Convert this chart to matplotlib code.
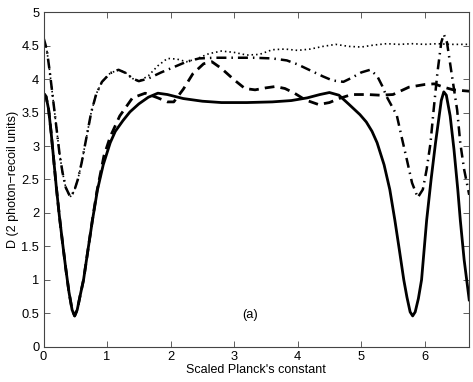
import matplotlib
matplotlib.use("Agg")
import matplotlib.pyplot as plt

plt.rcParams['font.family'] = ['Liberation Sans', 'DejaVu Sans']

# solid curve
x_solid = [0, 0.04, 0.08, 0.12, 0.16, 0.2, 0.25, 0.3, 0.35, 0.4, 0.45, 0.49, 0.53,
           0.58, 0.63, 0.7, 0.77, 0.85, 0.94, 1.05, 1.13, 1.25, 1.36, 1.5, 1.65, 1.8,
           1.95, 2.2, 2.5, 2.8, 3.2, 3.6, 3.9, 4.15, 4.35, 4.5, 4.65, 4.8, 4.98, 5.08,
           5.17, 5.25, 5.36, 5.45, 5.53, 5.6, 5.67, 5.72, 5.77, 5.81, 5.85, 5.9, 5.95, 6.03,
           6.1, 6.17, 6.22, 6.26, 6.3, 6.34, 6.4, 6.46, 6.52, 6.56, 6.62, 6.7]
y_solid = [3.79, 3.74, 3.55, 3.2, 2.8, 2.4, 1.95, 1.55, 1.17, 0.82, 0.55, 0.46, 0.55,
           0.78, 1.0, 1.45, 1.89, 2.35, 2.72, 3.05, 3.22, 3.38, 3.51, 3.63, 3.73, 3.79,
           3.77, 3.71, 3.67, 3.65, 3.65, 3.66, 3.68, 3.72, 3.77, 3.8, 3.76, 3.63, 3.47, 3.36,
           3.22, 3.05, 2.72, 2.35, 1.89, 1.45, 1.0, 0.74, 0.52, 0.46, 0.52, 0.72, 1.0, 1.89,
           2.5, 3.05, 3.4, 3.68, 3.81, 3.76, 3.45, 2.95, 2.35, 1.89, 1.3, 0.7]

# dashed curve
x_dash = [0, 0.04, 0.08, 0.12, 0.16, 0.2, 0.25, 0.3, 0.35, 0.4, 0.45, 0.49, 0.53,
          0.58, 0.63, 0.7, 0.77, 0.84, 0.95, 1.05, 1.2, 1.4, 1.6, 1.8, 1.95, 2.05,
          2.2, 2.35, 2.52, 2.65, 2.8, 3.0, 3.17, 3.33, 3.5, 3.65, 3.8, 3.95, 4.12, 4.33,
          4.5, 4.65, 4.85, 5.1, 5.3, 5.5, 5.75, 6.0, 6.15, 6.3, 6.45, 6.7]
y_dash = [3.79, 3.74, 3.55, 3.2, 2.8, 2.4, 1.95, 1.55, 1.17, 0.82, 0.55, 0.46, 0.55,
          0.78, 1.0, 1.45, 1.9, 2.32, 2.85, 3.14, 3.45, 3.72, 3.79, 3.72, 3.66, 3.66,
          3.85, 4.08, 4.23, 4.26, 4.16, 3.99, 3.86, 3.84, 3.87, 3.89, 3.86, 3.79, 3.69, 3.62,
          3.65, 3.71, 3.77, 3.77, 3.76, 3.77, 3.88, 3.92, 3.93, 3.88, 3.84, 3.82]

# dash-dot curve
x_dd = [0, 0.05, 0.1, 0.15, 0.2, 0.25, 0.3, 0.35, 0.42, 0.48, 0.54, 0.6, 0.67, 0.75,
        0.83, 0.92, 1.05, 1.18, 1.3, 1.4, 1.5, 1.65, 1.85, 2.05, 2.25, 2.45, 2.7, 3.0,
        3.3, 3.6, 3.83, 4.0, 4.2, 4.4, 4.55, 4.72, 4.85, 5.0, 5.14, 5.25, 5.33, 5.4,
        5.48, 5.56, 5.64, 5.72, 5.8, 5.89, 5.97, 6.03, 6.09, 6.14, 6.2, 6.26, 6.3,
        6.35, 6.43, 6.51, 6.56, 6.62, 6.7]
y_dd = [4.62, 4.45, 4.1, 3.7, 3.3, 2.9, 2.6, 2.38, 2.24, 2.32, 2.5, 2.75, 3.1, 3.5,
        3.78, 3.96, 4.09, 4.14, 4.09, 4.01, 3.97, 4.01, 4.1, 4.18, 4.26, 4.31, 4.32, 4.32,
        4.32, 4.31, 4.28, 4.22, 4.13, 4.04, 3.98, 3.96, 4.02, 4.1, 4.14, 4.05, 3.9, 3.74,
        3.6, 3.46, 3.12, 2.79, 2.45, 2.23, 2.35, 2.65, 3.04, 3.54, 4.1, 4.55, 4.67,
        4.55, 4.04, 3.54, 3.04, 2.65, 2.27]

# dotted curve
x_dot = [0, 0.05, 0.1, 0.15, 0.2, 0.25, 0.3, 0.35, 0.42, 0.48, 0.54, 0.6, 0.67, 0.75,
         0.83, 0.92, 1.05, 1.18, 1.3, 1.4, 1.5, 1.65, 1.8, 1.95, 2.1, 2.25, 2.4, 2.6,
         2.8, 3.0, 3.2, 3.4, 3.6, 3.8, 4.0, 4.2, 4.4, 4.6, 4.8, 5.0, 5.2, 5.4, 5.6,
         5.8, 6.0, 6.2, 6.4, 6.7]
y_dot = [4.62, 4.45, 4.1, 3.7, 3.3, 2.9, 2.6, 2.38, 2.24, 2.32, 2.5, 2.75, 3.1, 3.5,
         3.78, 3.96, 4.09, 4.14, 4.09, 4.01, 3.97, 4.05, 4.2, 4.31, 4.3, 4.26, 4.3, 4.38,
         4.42, 4.4, 4.36, 4.37, 4.44, 4.45, 4.43, 4.45, 4.49, 4.52, 4.49, 4.48, 4.51, 4.53, 4.52,
         4.53, 4.52, 4.53, 4.52, 4.52]

x_ticks = [0, 1, 2, 3, 4, 5, 6]
y_ticks = [0, 0.5, 1, 1.5, 2, 2.5, 3, 3.5, 4, 4.5, 5]

fig = plt.figure(figsize=(4.73, 3.82), dpi=100)
ax = fig.add_axes([0.092, 0.0924, 0.9, 0.8755])

ax.plot(x_dot, y_dot, color='black', lw=1.2, linestyle=(0, (0.9, 1.8)))
ax.plot(x_dd, y_dd, color='black', lw=1.8, dashes=(4, 2, 0.6, 2))
ax.plot(x_dash, y_dash, color='black', lw=2.0, dashes=(3.5, 2.2))
ax.plot(x_solid, y_solid, color='black', lw=2.0)

ax.text(3.25, 0.47, '(a)', ha='center', va='center', fontsize=9.3)

ax.set_xlim(0, 6.7)
ax.set_ylim(0, 5)
ax.set_xticks(x_ticks)
ax.set_yticks(y_ticks)
ax.set_yticklabels(['0', '0.5', '1', '1.5', '2', '2.5', '3', '3.5', '4', '4.5', '5'])
ax.tick_params(direction='in', top=True, right=True, labelsize=9.3, length=4,
               width=0.6, color='#444444', pad=3)
for s in ax.spines.values():
    s.set_color('#444444')
    s.set_linewidth(0.8)

ax.set_xlabel("Scaled Planck's constant", fontsize=9, labelpad=1)
ax.set_ylabel("D (2 photon\u2212recoil units)", fontsize=9, labelpad=2)

fig.savefig('out.png', dpi=100)
